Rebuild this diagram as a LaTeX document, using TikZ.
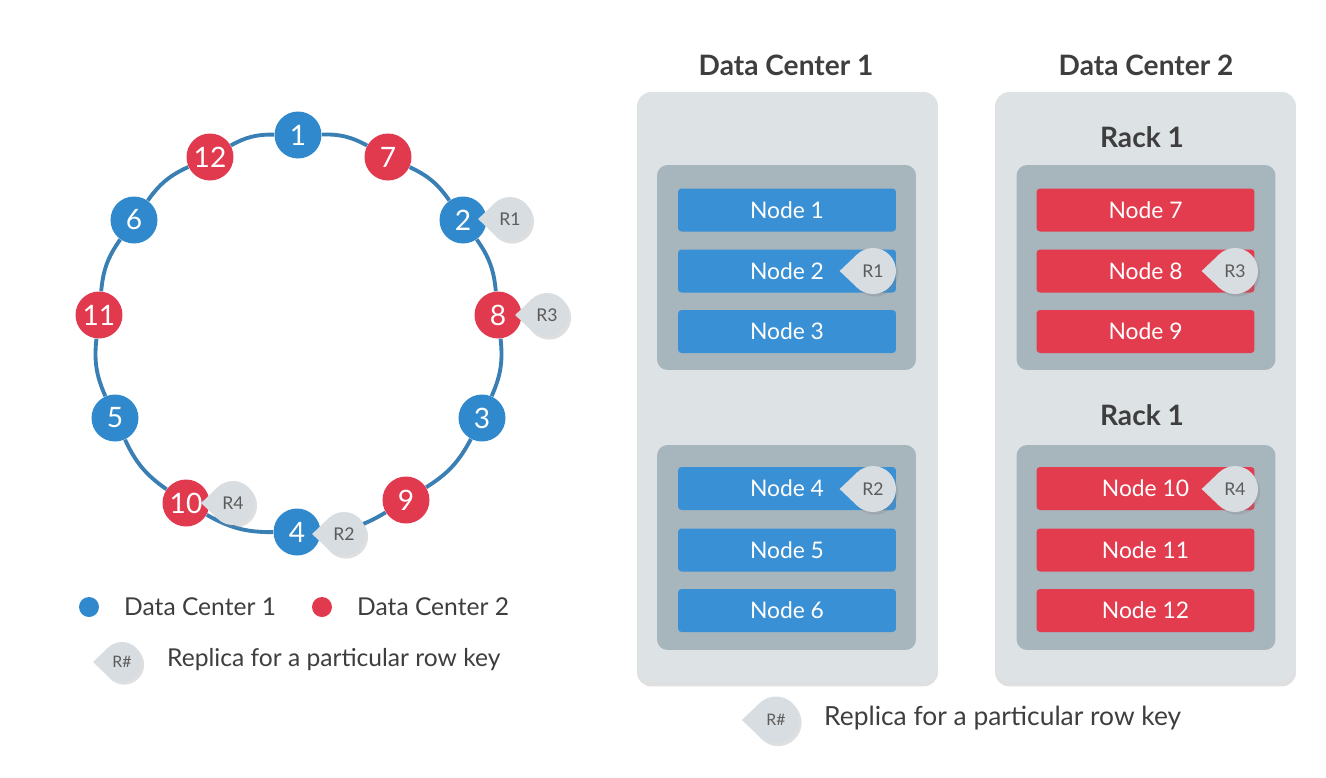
\documentclass[tikz,border=0pt]{standalone}
\usepackage{fontspec}
\setmainfont{Lato}
\usetikzlibrary{calc,shadows}

\definecolor{dcblue}{HTML}{3089CC}
\definecolor{dcred}{HTML}{E1394D}
\definecolor{barblue}{HTML}{3A90D4}
\definecolor{barred}{HTML}{E33C4F}
\definecolor{ringblue}{HTML}{3A7FB4}
\definecolor{boxgray}{HTML}{DDE2E5}
\definecolor{rackgray}{HTML}{A7B5BD}
\definecolor{bubblegray}{HTML}{D8DDE1}
\definecolor{labelgray}{HTML}{3E3E3E}

% pointed tip of a replica bubble, towards the left
\newcommand{\replicatip}[1]{\fill[bubblegray] (#1.134) -- ($(#1.center)!1.45!(#1.west)$) -- (#1.226) -- cycle;}

\begin{document}
\begin{tikzpicture}[x=0.02cm,y=-0.02cm,
   ringnode/.style={circle,minimum size=0.94cm,inner sep=0pt,text=white,font=\fontsize{16}{16}\selectfont},
   ringline/.style={draw=ringblue,line width=2.2pt},
   bar/.style={rectangle,rounded corners=2pt,minimum width=4.36cm,minimum height=0.86cm,text=white,font=\fontsize{13}{13}\selectfont},
   replica/.style={circle,fill=bubblegray,minimum size=0.88cm,inner sep=0pt,outer sep=0pt,text=labelgray!85,font=\fontsize{10}{10}\selectfont,drop shadow={opacity=0.25,shadow xshift=1.2pt,shadow yshift=-1.5pt}},
   dcbox/.style={rectangle,rounded corners=8pt,fill=boxgray,minimum width=6.02cm,minimum height=11.8cm,drop shadow={opacity=0.25,shadow xshift=0pt,shadow yshift=-2.5pt}},
   rack/.style={rectangle,rounded corners=6pt,fill=rackgray,minimum width=5.18cm,minimum height=4.1cm},
   title/.style={font=\bfseries\fontsize{16}{16}\selectfont,text=labelgray},
   legend/.style={anchor=west,font=\fontsize{14}{14}\selectfont,text=labelgray}]
   \useasboundingbox (0,0) rectangle (1326,778);

   % token ring
   \foreach \n/\x/\y/\c in {1/298/135/dcblue, 7/388/157/dcred, 2/463/220/dcblue, 8/498/315/dcred,
                            3/482/418/dcblue, 9/406/500/dcred, 4/297/532/dcblue, 10/186/503/dcred,
                            5/115/418/dcblue, 11/99/315/dcred, 6/134/220/dcblue, 12/210/157/dcred}
      \node[ringnode,fill=\c] (ring\n) at (\x,\y) {\n};
   \foreach \a/\b in {1/7,7/2,2/8,8/3,3/9,9/4,4/10,10/5,5/11,11/6,6/12,12/1}
      \draw[ringline] (ring\a) to[bend left=15] (ring\b);
   \node[replica] (ringr1) at (510,219) {R1}; \replicatip{ringr1}
   \node[replica] (ringr3) at (547,315) {R3}; \replicatip{ringr3}
   \node[replica] (ringr2) at (344,534) {R2}; \replicatip{ringr2}
   \node[replica] (ringr4) at (233,503) {R4}; \replicatip{ringr4}

   % legend under the ring
   \node[circle,fill=dcblue,minimum size=0.4cm,inner sep=0pt] (dotone) at (89,607) {};
   \node[legend] (legone) at (118,607) {Data Center 1};
   \node[circle,fill=dcred,minimum size=0.4cm,inner sep=0pt] (dottwo) at (322,607) {};
   \node[legend] (legtwo) at (351,607) {Data Center 2};
   \node[replica,minimum size=0.8cm,font=\fontsize{9}{9}\selectfont] (legr) at (122,662) {R\#}; \replicatip{legr}
   \node[legend] (legrtext) at (161,660) {Replica for a particular row key};

   % data centers
   \node[title] (dconetitle) at (786,65) {Data Center 1};
   \node[title] (dctwotitle) at (1146,65) {Data Center 2};
   \node[dcbox] (dcone) at (787.5,387) {};
   \node[dcbox] (dctwo) at (1145.5,387) {};
   \node[rack] (rackone) at (786.5,267.5) {};
   \node[rack] (racktwo) at (786.5,547.5) {};
   \node[title] (rackthreelabel) at (1142,137) {Rack 1};
   \node[rack] (rackthree) at (1146,267.5) {};
   \node[title] (rackfourlabel) at (1142,415) {Rack 1};
   \node[rack] (rackfour) at (1146,547.5) {};

   \foreach \n/\y in {1/210,2/271,3/331.5,4/488.5,5/550,6/610.5}
      \node[bar,fill=barblue] (node\n) at (787,\y) {Node \n};
   \foreach \n/\y in {7/210,8/271,9/331.5,10/488.5,11/550,12/610.5}
      \node[bar,fill=barred] (node\n) at (1145.5,\y) {Node \n};

   \node[replica,minimum size=0.92cm] (barr1) at (873,271) {R1}; \replicatip{barr1}
   \node[replica,minimum size=0.92cm] (barr2) at (873,489) {R2}; \replicatip{barr2}
   \node[replica,minimum size=0.92cm] (barr3) at (1235,271) {R3}; \replicatip{barr3}
   \node[replica,minimum size=0.92cm] (barr4) at (1235,489) {R4}; \replicatip{barr4}

   % legend under the data centers
   \node[replica,minimum size=0.94cm,font=\fontsize{9}{9}\selectfont] (legrb) at (776,720) {R\#}; \replicatip{legrb}
   \node[legend,font=\fontsize{15}{15}\selectfont] (legrbtext) at (818,718) {Replica for a particular row key};
\end{tikzpicture}
\end{document}
